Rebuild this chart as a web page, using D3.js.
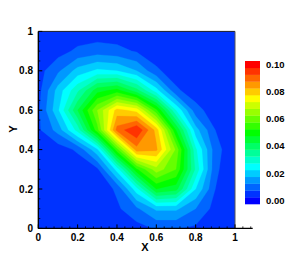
<!DOCTYPE html>
<html lang="en">
<head>
<meta charset="UTF-8">
<title>Contour</title>
<script src="https://d3js.org/d3.v7.min.js"></script>
<style>
  body { margin: 0; background: #fff; }
  text { font-family: "Liberation Sans", Arial, sans-serif; font-weight: bold; fill: #000; }
</style>
</head>
<body>
<svg id="chart" width="289" height="257"></svg>
<script>
// grid node positions (values rows go from y = 1 at top down to y = 0)
var gridX = [0, 0.1, 0.2, 0.3, 0.4, 0.5, 0.6, 0.7, 0.8, 0.9, 1];
var gridY = [1, 0.9, 0.8, 0.7, 0.6, 0.5, 0.4, 0.3, 0.2, 0.1, 0];
var values = [
  [0.006, 0.006, 0.007, 0.007, 0.007, 0.006, 0.006, 0.006, 0.006, 0.006, 0.006],
  [0.006, 0.008, 0.011, 0.0125, 0.0115, 0.0095, 0.007, 0.006, 0.006, 0.006, 0.006],
  [0.008, 0.014, 0.022, 0.026, 0.025, 0.020, 0.011, 0.007, 0.006, 0.006, 0.006],
  [0.008, 0.022, 0.034, 0.048, 0.052, 0.042, 0.027, 0.011, 0.007, 0.006, 0.006],
  [0.009, 0.024, 0.045, 0.065, 0.082, 0.078, 0.056, 0.030, 0.012, 0.007, 0.006],
  [0.009, 0.017, 0.032, 0.058, 0.092, 0.100, 0.083, 0.050, 0.022, 0.010, 0.006],
  [0.006, 0.007, 0.011, 0.024, 0.058, 0.088, 0.086, 0.064, 0.031, 0.012, 0.006],
  [0.006, 0.006, 0.006, 0.009, 0.027, 0.054, 0.068, 0.060, 0.034, 0.011, 0.006],
  [0.006, 0.006, 0.006, 0.006, 0.011, 0.028, 0.050, 0.047, 0.025, 0.010, 0.006],
  [0.006, 0.006, 0.006, 0.006, 0.009, 0.014, 0.021, 0.021, 0.015, 0.008, 0.006],
  [0.006, 0.006, 0.006, 0.006, 0.006, 0.008, 0.0105, 0.0105, 0.009, 0.006, 0.006]
];
var levels = [0, 0.005, 0.01, 0.015, 0.02, 0.025, 0.03, 0.035, 0.04, 0.045, 0.05,
              0.055, 0.06, 0.065, 0.07, 0.075, 0.08, 0.085, 0.09, 0.095, 0.1];
var legendTicks = [0, 0.02, 0.04, 0.06, 0.08, 0.1];
var xTicks = [0, 0.2, 0.4, 0.6, 0.8, 1];
var xMinor = [0.04, 0.08, 0.12, 0.16, 0.24, 0.28, 0.32, 0.36, 0.44, 0.48, 0.52, 0.56,
              0.64, 0.68, 0.72, 0.76, 0.84, 0.88, 0.92, 0.96, 1.04, 1.08];
var yTicks = [0, 0.2, 0.4, 0.6, 0.8, 1];
var yMinor = [0.05, 0.1, 0.15, 0.25, 0.3, 0.35, 0.45, 0.5, 0.55, 0.65, 0.7, 0.75, 0.85, 0.9, 0.95];

var svg = d3.select("#chart");
var x = d3.scaleLinear().domain([0, 1]).range([38.3, 235]);
var y = d3.scaleLinear().domain([0, 1]).range([228.4, 31.4]);

// rainbow colour map like tecplot's
var color = d3.scaleLinear()
    .domain([0, 0.025, 0.05, 0.075, 0.1])
    .range(["#0000ff", "#00ffff", "#00ff00", "#ffff00", "#ff0000"]);

// grid index -> data coordinates
var nx = gridX.length, ny = gridY.length;
var gx = d3.scaleLinear().domain([0.5, nx - 0.5]).range([gridX[0], gridX[nx - 1]]);
var gy = d3.scaleLinear().domain([0.5, ny - 0.5]).range([gridY[0], gridY[ny - 1]]);
var proj = d3.geoTransform({
  point: function(px, py) { this.stream.point(x(gx(px)), y(gy(py))); }
});
var path = d3.geoPath(proj);

svg.append("clipPath").attr("id", "clip")
  .append("rect")
  .attr("x", x(0)).attr("y", y(1))
  .attr("width", x(1) - x(0)).attr("height", y(0) - y(1));

var flat = [].concat.apply([], values);
var contours = d3.contours().size([nx, ny]).thresholds(levels)(flat);

var plot = svg.append("g").attr("clip-path", "url(#clip)");
plot.selectAll("path")
  .data(contours)
  .enter().append("path")
  .attr("d", path)
  .attr("fill", d => color(d.value))
  .attr("stroke", d => color(d.value))
  .attr("stroke-width", 0.3);

// frame
svg.append("line").attr("x1", x(0)).attr("x2", x(1)).attr("y1", y(1)).attr("y2", y(1))
  .attr("stroke", "#222").attr("stroke-width", 1);
svg.append("line").attr("x1", x(1)).attr("x2", x(1)).attr("y1", y(1)).attr("y2", y(0))
  .attr("stroke", "#555").attr("stroke-width", 1);

// axes (ticks point inwards)
var axes = svg.append("g").attr("stroke", "#000");
axes.append("line").attr("x1", x(0)).attr("x2", x(1.09)).attr("y1", y(0)).attr("y2", y(0)).attr("stroke-width", 1.3);
axes.append("line").attr("x1", x(0)).attr("x2", x(0)).attr("y1", y(0)).attr("y2", y(1)).attr("stroke-width", 1.3);
axes.selectAll(".xt").data(xTicks).enter().append("line")
  .attr("x1", d => x(d)).attr("x2", d => x(d)).attr("y1", y(0)).attr("y2", y(0) - 4);
axes.selectAll(".xm").data(xMinor).enter().append("line")
  .attr("x1", d => x(d)).attr("x2", d => x(d)).attr("y1", y(0)).attr("y2", y(0) - 2).attr("stroke-width", 0.8);
axes.selectAll(".yt").data(yTicks).enter().append("line")
  .attr("x1", x(0)).attr("x2", x(0) + 4).attr("y1", d => y(d)).attr("y2", d => y(d));
axes.selectAll(".ym").data(yMinor).enter().append("line")
  .attr("x1", x(0)).attr("x2", x(0) + 2).attr("y1", d => y(d)).attr("y2", d => y(d)).attr("stroke-width", 0.8);

var fmt = d => d === 0 ? "0" : d === 1 ? "1" : d3.format(".1f")(d);
svg.selectAll(".xl").data(xTicks).enter().append("text")
  .attr("x", d => x(d)).attr("y", 241).attr("text-anchor", "middle")
  .style("font-size", "10px").text(fmt);
svg.selectAll(".yl").data(yTicks).enter().append("text")
  .attr("x", 33).attr("y", d => y(d) + 3.6).attr("text-anchor", "end")
  .style("font-size", "10px").text(fmt);

svg.append("text").attr("x", 145).attr("y", 251).attr("text-anchor", "middle")
  .style("font-size", "11px").text("X");
svg.append("text").attr("transform", "translate(17,129) rotate(-90)").attr("text-anchor", "middle")
  .style("font-size", "11px").text("Y");

// legend bar: one box per level
var ly = d3.scaleBand().domain(levels.slice().reverse()).range([61, 204]);
var legend = svg.append("g");
legend.selectAll("rect").data(levels).enter().append("rect")
  .attr("x", 245).attr("width", 15)
  .attr("y", d => ly(d)).attr("height", ly.bandwidth() + 0.3)
  .attr("fill", d => color(d));
legend.selectAll("text").data(legendTicks).enter().append("text")
  .attr("x", 266).attr("y", d => ly(d) + ly.bandwidth() / 2 + 3.3)
  .style("font-size", "9.5px").text(d => d3.format(".2f")(d));
</script>
</body>
</html>
